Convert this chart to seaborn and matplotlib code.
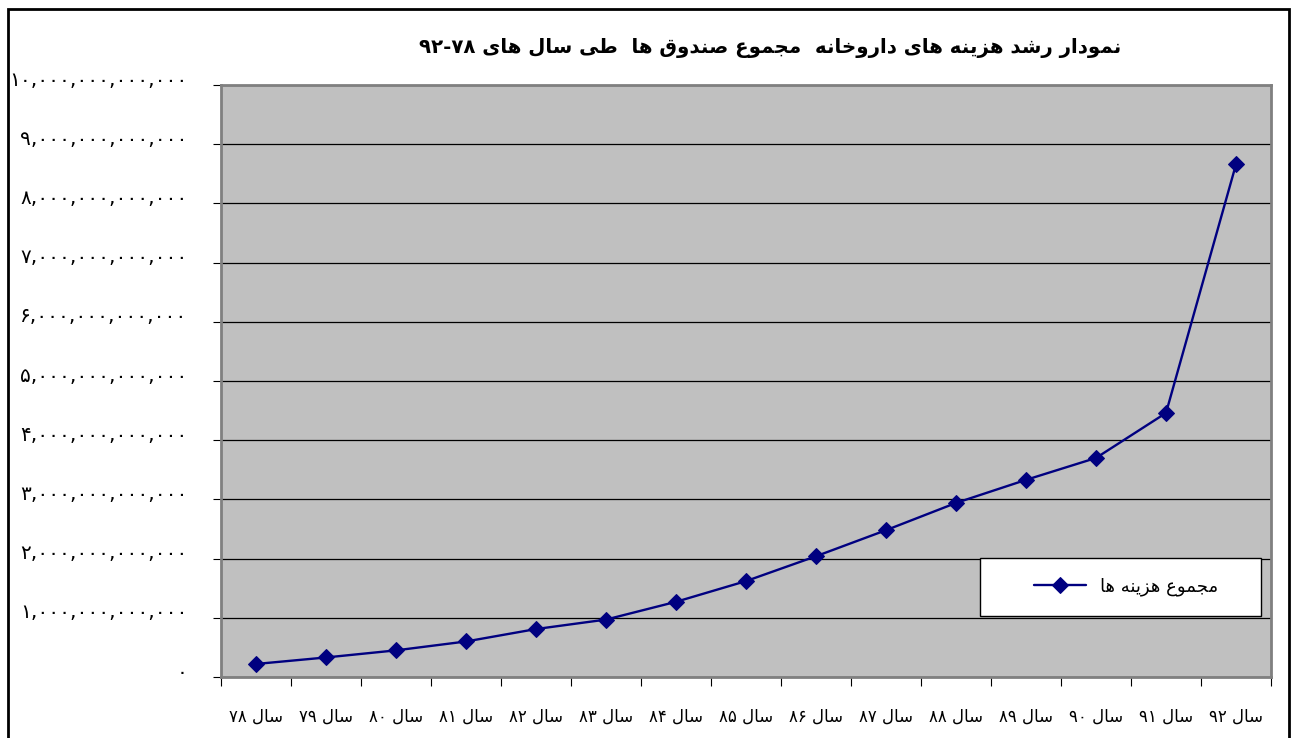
import numpy as np
import pandas as pd
import matplotlib
matplotlib.use("Agg")
import matplotlib.pyplot as plt
import matplotlib.transforms as mtransforms
from matplotlib.patches import Rectangle
import seaborn as sns

# ---------------- data ----------------
years = ["۷۸", "۷۹", "۸۰", "۸۱", "۸۲", "۸۳", "۸۴", "۸۵", "۸۶", "۸۷", "۸۸", "۸۹", "۹۰", "۹۱", "۹۲"]
costs = [0.22e12, 0.33e12, 0.45e12, 0.60e12, 0.81e12, 0.97e12, 1.27e12, 1.62e12,
         2.04e12, 2.48e12, 2.94e12, 3.33e12, 3.70e12, 4.46e12, 8.66e12]
x_label_prefix = "سال"
title_text = "نمودار رشد هزینه های داروخانه  مجموع صندوق ها  طی سال های ۷۸-۹۲"
series_name = "مجموع هزینه ها"
y_ticks = [i * 1e12 for i in range(11)]

# ------------- minimal Arabic/Persian shaping for display -------------
DUAL = {
    "ن": "\uFEE5\uFEE6\uFEE7\uFEE8", "م": "\uFEE1\uFEE2\uFEE3\uFEE4",
    "ش": "\uFEB5\uFEB6\uFEB7\uFEB8", "س": "\uFEB1\uFEB2\uFEB3\uFEB4",
    "ه": "\uFEE9\uFEEA\uFEEB\uFEEC", "خ": "\uFEA5\uFEA6\uFEA7\uFEA8",
    "ج": "\uFE9D\uFE9E\uFE9F\uFEA0", "ع": "\uFEC9\uFECA\uFECB\uFECC",
    "ص": "\uFEB9\uFEBA\uFEBB\uFEBC", "ق": "\uFED5\uFED6\uFED7\uFED8",
    "ط": "\uFEC1\uFEC2\uFEC3\uFEC4", "ل": "\uFEDD\uFEDE\uFEDF\uFEE0",
    "ی": "\uFBFC\uFBFD\uFBFE\uFBFF",
}
RIGHT = {
    "ا": "\uFE8D\uFE8E", "د": "\uFEA9\uFEAA", "ر": "\uFEAD\uFEAE",
    "ز": "\uFEAF\uFEB0", "و": "\uFEED\uFEEE",
}


def is_letter(c):
    return c in DUAL or c in RIGHT


def shape_word(w):
    out = []
    for i, c in enumerate(w):
        if not is_letter(c):
            out.append(c)
            continue
        prev_joins = i > 0 and w[i - 1] in DUAL
        next_joins = c in DUAL and i + 1 < len(w) and is_letter(w[i + 1])
        if c in DUAL:
            f = DUAL[c]
            if prev_joins and next_joins:
                out.append(f[3])
            elif prev_joins:
                out.append(f[1])
            elif next_joins:
                out.append(f[2])
            else:
                out.append(f[0])
        else:
            f = RIGHT[c]
            out.append(f[1] if prev_joins else f[0])
    return "".join(out)


def visual(text):
    toks = text.split(" ")
    vis = []
    for t in toks:
        if any(is_letter(c) for c in t):
            vis.append(shape_word(t)[::-1])
        elif "-" in t:
            vis.append("-".join(t.split("-")[::-1]))
        else:
            vis.append(t)
    return " ".join(vis[::-1])


PDIG = str.maketrans("0123456789", "۰۱۲۳۴۵۶۷۸۹")


def fa_num(v):
    return f"{int(round(v)):,}".translate(PDIG)


# ---------------- plot ----------------
sns.set_style("white")
plt.rcParams["font.family"] = ["DejaVu Sans"]
plt.rcParams["text.color"] = "black"
plt.rcParams["xtick.color"] = "black"
plt.rcParams["ytick.color"] = "black"

df = pd.DataFrame({"year": [f"{x_label_prefix} {y}" for y in years], "cost": costs})

W, H = 1292, 738
fig = plt.figure(figsize=(W / 100, H / 100), dpi=100)
L, R, T, B = 221, 1271, 85, 677
ax = fig.add_axes([L / W, 1 - B / H, (R - L) / W, (B - T) / H])
ax.set_facecolor("#C0C0C0")

sns.lineplot(data=df, x="year", y="cost", marker="D", color="#000080",
             linewidth=1.7, markersize=8.5, markeredgecolor="#000080",
             label=visual(series_name), ax=ax, sort=False)

n = len(years)
ax.set_xlim(-0.5, n - 0.5)
ax.set_ylim(0, 1e13)
ax.set_yticks(y_ticks)
ax.set_yticklabels([fa_num(v) for v in y_ticks], fontsize=14.5)
ax.set_xticks(range(n))
ax.set_xticklabels([visual(lbl) for lbl in df["year"]], fontsize=12)
ax.set_xticks(np.arange(-0.5, n, 1.0), minor=True)
ax.tick_params(axis="x", which="major", bottom=True, length=0, pad=22)
ax.tick_params(axis="x", which="minor", bottom=True, length=6.5, width=0.8,
               color="black", direction="out")
ax.tick_params(axis="y", which="major", left=True, length=6, width=0.8,
               color="black", direction="out", pad=18)
ax.set_xlabel("")
ax.set_ylabel("")

# y labels sit slightly above their ticks in the reference
offset = mtransforms.ScaledTranslation(0, 5 / 72, fig.dpi_scale_trans)
for lbl in ax.get_yticklabels():
    lbl.set_transform(lbl.get_transform() + offset)

ax.yaxis.grid(True, color="black", linewidth=0.9)
ax.xaxis.grid(False)
ax.set_axisbelow(True)
for s in ax.spines.values():
    s.set_color("#808080")
    s.set_linewidth(2)

# legend box (frame drawn separately to mimic the wide Excel legend box)
lx0, lx1, ly0, ly1 = 980, 1261, 558, 616
ax.add_patch(Rectangle(((lx0 - L) / (R - L), (B - ly1) / (B - T)),
                       (lx1 - lx0) / (R - L), (ly1 - ly0) / (B - T),
                       transform=ax.transAxes, facecolor="white",
                       edgecolor="black", linewidth=1, zorder=5))
leg = ax.legend(loc="center", bbox_to_anchor=((1126 - L) / (R - L), (B - 587) / (B - T)),
                frameon=False, fontsize=13, handlelength=2.9,
                borderpad=0, borderaxespad=0, handletextpad=0.8)
leg.set_zorder(6)

fig.text(770 / W, 1 - 48 / H, visual(title_text), ha="center", va="center",
         fontsize=14.2, fontweight="bold", color="black")

fig.patches.append(Rectangle((8 / W, -0.05), (1289 - 8) / W, 1.05 - 9 / H,
                             transform=fig.transFigure, fill=False,
                             edgecolor="black", linewidth=2))

fig.savefig("out.png", dpi=100)
